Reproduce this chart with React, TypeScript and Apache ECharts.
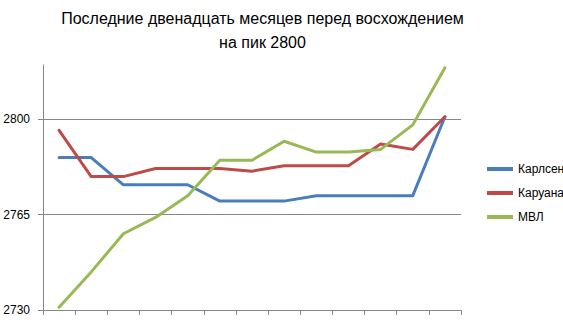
import React, { useEffect, useRef } from "react";
import * as echarts from "echarts";

const titleLines = ["Последние двенадцать месяцев перед восхождением", "на пик 2800"];
const months = ["1", "2", "3", "4", "5", "6", "7", "8", "9", "10", "11", "12", "13"];
const carlsen = [2786, 2786, 2776, 2776, 2776, 2770, 2770, 2770, 2772, 2772, 2772, 2772, 2801];
const caruana = [2796, 2779, 2779, 2782, 2782, 2782, 2781, 2783, 2783, 2783, 2791, 2789, 2801];
const mvl = [2731, 2744, 2758, 2764, 2772, 2785, 2785, 2792, 2788, 2788, 2789, 2798, 2819];
const yTicks = [2730, 2765, 2800];
const gridValues = [2765, 2800];

const FONT = "'Liberation Sans', Arial, sans-serif";

export default function App() {
  const ref = useRef<HTMLDivElement>(null);
  useEffect(() => {
    if (!ref.current) return;
    const chart = echarts.init(ref.current, null, { renderer: "svg" });
    const lineSeries = (name: string, data: number[], color: string, extra: any = {}) => ({
      name,
      type: "line",
      data,
      color,
      showSymbol: false,
      symbol: "none",
      lineStyle: { width: 3, color, cap: "round", join: "round" },
      ...extra,
    });
    chart.setOption({
      animation: false,
      backgroundColor: "#ffffff",
      textStyle: { fontFamily: FONT },
      graphic: [
        {
          type: "text",
          x: 262.5,
          y: 6,
          style: {
            text: titleLines.join("\n"),
            font: `16px ${FONT}`,
            fill: "#000",
            textAlign: "center",
            lineHeight: 24,
          },
        },
      ],
      grid: { left: 43, right: 102, top: 65, bottom: 19, containLabel: false },
      legend: {
        orient: "vertical",
        left: 482,
        top: 157,
        icon: "rect",
        itemWidth: 26,
        itemHeight: 4,
        itemGap: 10,
        textStyle: { fontSize: 12, color: "#000", fontFamily: FONT, lineHeight: 14 },
        data: ["Карлсен", "Каруана", "МВЛ"],
      },
      xAxis: {
        type: "category",
        data: months,
        boundaryGap: true,
        axisLine: { show: true, lineStyle: { color: "#868686", width: 1 } },
        axisTick: { show: true, interval: 0, length: 5, lineStyle: { color: "#868686" } },
        axisLabel: { show: false },
        splitLine: { show: false },
      },
      yAxis: {
        type: "value",
        min: 2730,
        max: 2820,
        interval: 35,
        axisLine: { show: true, lineStyle: { color: "#868686", width: 1 } },
        axisTick: { show: true, length: 5, customValues: yTicks, lineStyle: { color: "#868686" } },
        axisLabel: {
          customValues: yTicks,
          formatter: (v: number) => String(v),
          fontSize: 12,
          color: "#000",
          margin: 13,
          fontFamily: FONT,
        },
        splitLine: { show: false },
      },
      series: [
        lineSeries("Карлсен", carlsen, "#4A7EBB", {
          markLine: {
            silent: true,
            symbol: "none",
            label: { show: false },
            lineStyle: { color: "#868686", width: 1, type: "solid" },
            data: gridValues.map((v) => ({ yAxis: v })),
            z: 1,
          },
        }),
        lineSeries("Каруана", caruana, "#BE4B48"),
        lineSeries("МВЛ", mvl, "#98B954"),
      ],
    });
    return () => chart.dispose();
  }, []);
  return <div ref={ref} style={{ position: "absolute", left: 0, top: 0, width: 563, height: 329 }} />;
}
